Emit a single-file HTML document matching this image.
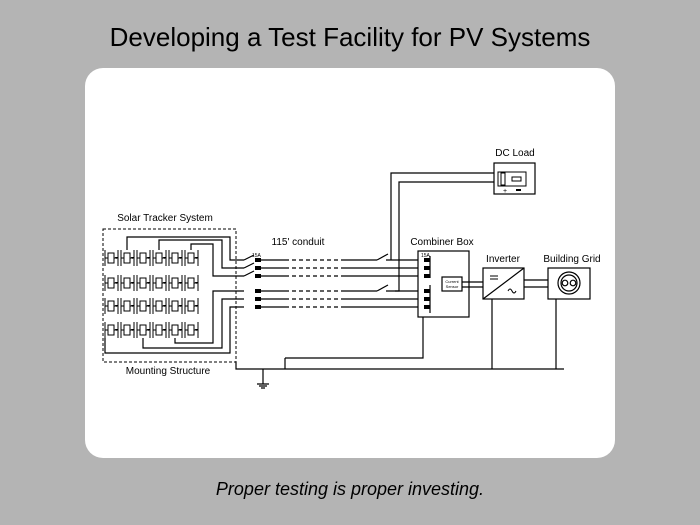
<!DOCTYPE html>
<html><head><style>
html,body{margin:0;padding:0;width:700px;height:525px;overflow:hidden;background:#b4b4b4;}
svg{display:block}
text{font-family:"Liberation Sans",Arial,sans-serif;fill:#000}
</style></head><body>
<svg width="700" height="525" viewBox="0 0 700 525" xmlns="http://www.w3.org/2000/svg">
<rect x="0" y="0" width="700" height="525" fill="#b4b4b4"/>
<text x="350" y="46" font-size="26" text-anchor="middle" fill="#111">Developing a Test Facility for PV Systems</text>
<rect x="85" y="68" width="530" height="390" rx="18" fill="#fff"/>
<text x="350" y="495" font-size="18" font-style="italic" text-anchor="middle">Proper testing is proper investing.</text>

<defs>
<g id="p">
<rect x="0" y="0" width="6" height="10" fill="#fff" stroke="#000" stroke-width="1"/>
<line x1="-3" y1="-3" x2="-3" y2="13" stroke="#000" stroke-width="1"/>
<line x1="-3" y1="5" x2="0" y2="5" stroke="#000" stroke-width="1"/>
<line x1="10" y1="-3" x2="10" y2="13" stroke="#000" stroke-width="1"/>
<line x1="6" y1="5" x2="10" y2="5" stroke="#000" stroke-width="1"/>
<path d="M7,4 l1.5,2 l1.5,-2 z" fill="#000"/>
</g>
</defs>

<g font-size="10">
<text x="165" y="221" text-anchor="middle">Solar Tracker System</text>
<text x="168" y="374" text-anchor="middle">Mounting Structure</text>
<text x="298" y="245" text-anchor="middle">115' conduit</text>
<text x="515" y="156" text-anchor="middle">DC Load</text>
<text x="442" y="245" text-anchor="middle">Combiner Box</text>
<text x="503" y="262" text-anchor="middle">Inverter</text>
<text x="572" y="262" text-anchor="middle">Building Grid</text>
</g>

<rect x="103" y="229" width="133" height="133" fill="none" stroke="#000" stroke-width="1" stroke-dasharray="3,2"/>

<g>
<use href="#p" x="108" y="253"/><use href="#p" x="124" y="253"/><use href="#p" x="140" y="253"/><use href="#p" x="156" y="253"/><use href="#p" x="172" y="253"/><use href="#p" x="188" y="253"/>
<use href="#p" x="108" y="278"/><use href="#p" x="124" y="278"/><use href="#p" x="140" y="278"/><use href="#p" x="156" y="278"/><use href="#p" x="172" y="278"/><use href="#p" x="188" y="278"/>
<use href="#p" x="108" y="301"/><use href="#p" x="124" y="301"/><use href="#p" x="140" y="301"/><use href="#p" x="156" y="301"/><use href="#p" x="172" y="301"/><use href="#p" x="188" y="301"/>
<use href="#p" x="108" y="325"/><use href="#p" x="124" y="325"/><use href="#p" x="140" y="325"/><use href="#p" x="156" y="325"/><use href="#p" x="172" y="325"/><use href="#p" x="188" y="325"/>
</g>

<g fill="none" stroke="#000" stroke-width="1.2">
<path d="M127,250 V237 H230 V260 H244"/>
<path d="M159,250 V240 H222 V268 H244"/>
<path d="M191,250 V244 H213 V276 H244"/>
<path d="M105,338 V353 H230 V307 H244"/>
<path d="M143,338 V348 H222 V299 H244"/>
<path d="M175,338 V343 H213 V291 H244"/>
<path d="M244,260 L254,255"/><path d="M244,268 L254,263"/><path d="M244,276 L254,271"/>
<path d="M258,260 H285 M345,260 H377 M386,260 H418"/>
<path d="M258,268 H285 M345,268 H418"/>
<path d="M258,276 H285 M345,276 H418"/>
<path d="M258,291 H285 M345,291 H377 M386,291 H418"/>
<path d="M258,299 H285 M345,299 H418"/>
<path d="M258,307 H285 M345,307 H418"/>
<path d="M377,260 L388,254 M377,291 L388,285"/>
<g stroke-dasharray="4,3"><path d="M285,260H345M285,268H345M285,276H345M285,291H345M285,299H345M285,307H345"/></g>
<path d="M391,260 V173 H494"/>
<path d="M395,291 H399 V182 H494"/>
<rect x="494" y="163" width="41" height="31"/>
<rect x="418" y="251" width="51" height="66"/>
<rect x="442" y="277" width="20" height="14"/>
<rect x="483" y="268" width="41" height="31"/>
<rect x="548" y="268" width="42" height="31"/>
<path d="M462,282 H483 M462,287 H483 M524,280 H548 M524,287 H548"/>
<path d="M483,299 L524,268"/>
<circle cx="569" cy="283" r="11"/>
<circle cx="569" cy="283" r="8"/>
<circle cx="565" cy="283" r="2.8"/><circle cx="573" cy="283" r="2.8"/>
<path d="M430,256 V278 M430,285 V313"/>
<path d="M285,358 V369 M285,358 H423 V317"/>
<path d="M236,362 V369 H564"/>
<path d="M492,299 V369 M556,299 V369"/>
<path d="M263,369 V384 M257,384 H269 M259,386 H267 M261,388 H265"/>
</g>
<rect x="498" y="172" width="28" height="14" fill="none" stroke="#000" stroke-width="1"/>
<rect x="501" y="173" width="4" height="12" fill="none" stroke="#000" stroke-width="1"/>
<rect x="512" y="177" width="9" height="4" fill="none" stroke="#000" stroke-width="1"/>
<text x="505" y="193" font-size="7" text-anchor="middle">+</text>
<rect x="516" y="189" width="5" height="2" fill="#000"/>
<g fill="#000">
<rect x="255" y="258" width="6" height="4"/><rect x="255" y="266" width="6" height="4"/><rect x="255" y="274" width="6" height="4"/>
<rect x="255" y="289" width="6" height="4"/><rect x="255" y="297" width="6" height="4"/><rect x="255" y="305" width="6" height="4"/>
<rect x="424" y="258" width="6" height="4"/><rect x="424" y="266" width="6" height="4"/><rect x="424" y="274" width="6" height="4"/>
<rect x="424" y="289" width="6" height="4"/><rect x="424" y="297" width="6" height="4"/><rect x="424" y="305" width="6" height="4"/>
</g>
<text x="252" y="257" font-size="5">15A</text>
<text x="421" y="257" font-size="5">15A</text>
<text x="452" y="283" font-size="4" text-anchor="middle">Current</text>
<text x="452" y="288" font-size="4" text-anchor="middle">Sensor</text>
<path d="M490,276 h8 M490,279 h8" stroke="#000" stroke-width="1"/>
<path d="M508,291 q2,-4 4,0 t4,0" fill="none" stroke="#000" stroke-width="1"/>
</svg>
</body></html>
